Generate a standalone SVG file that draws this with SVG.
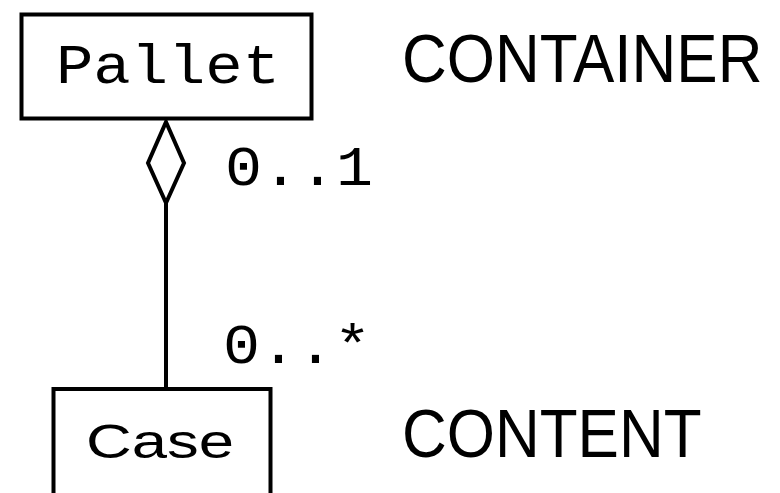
<svg xmlns="http://www.w3.org/2000/svg" width="780" height="493" viewBox="0 0 780 493">
<style>
.box{fill:#fff;stroke:#000;stroke-width:4}
.mono{font-family:"Liberation Mono","DejaVu Sans Mono",monospace;fill:#000}
.sans{font-family:"Liberation Sans",Arial,sans-serif;fill:#000}
.conn{stroke:#000;stroke-width:4;fill:none}
</style>
<rect width="780" height="493" fill="#fff"/>
<g id="connectors">
<line class="conn" x1="166" y1="203" x2="166" y2="389"/>
<polygon class="conn" fill="#fff" points="166,122 184,163 166,203 148,163" stroke-linejoin="miter"/>
<text class="mono" x="225" y="185" font-size="56" textLength="148" lengthAdjust="spacingAndGlyphs">0..1</text>
<text class="mono" x="223" y="363" font-size="56" textLength="148" lengthAdjust="spacingAndGlyphs">0..*</text>
</g>
<g id="pallet">
<rect class="box" x="21.5" y="14.5" width="290" height="104"/>
<text class="mono" x="56" y="83" font-size="56" textLength="224" lengthAdjust="spacingAndGlyphs">Pallet</text>
</g>
<g id="case">
<rect class="box" x="53.5" y="389" width="217" height="130"/>
<text class="sans" x="86" y="458" font-size="49" textLength="148" lengthAdjust="spacingAndGlyphs">Case</text>
</g>
<g id="container-label">
<text class="sans" transform="translate(402,82) scale(1,1.11)" x="0" y="0" font-size="62">CONTAINER</text>
</g>
<g id="content-label">
<text class="sans" transform="translate(402,457) scale(1,1.11)" x="0" y="0" font-size="62">CONTENT</text>
</g>
</svg>
